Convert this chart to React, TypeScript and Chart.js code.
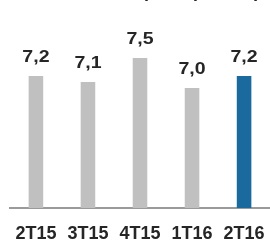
import React, { useEffect, useRef } from "react";
import { Chart, registerables } from "chart.js";

Chart.register(...registerables);

const categories = ["2T15", "3T15", "4T15", "1T16", "2T16"];
const values = [7.2, 7.1, 7.5, 7.0, 7.2];
const valueLabels = ["7,2", "7,1", "7,5", "7,0", "7,2"];
const barColors = ["#c0c0c0", "#c0c0c0", "#c0c0c0", "#c0c0c0", "#1a6a9e"];
const titleMain = "Opex";
const titleUnit = "(em mil)";

const FONT = "'Liberation Sans', Arial, sans-serif";

const valueLabelPlugin = {
  id: "valueLabels",
  afterDatasetsDraw(chart: any) {
    const ctx = chart.ctx;
    const meta = chart.getDatasetMeta(0);
    ctx.save();
    ctx.font = `bold 16px ${FONT}`;
    ctx.fillStyle = "#262626";
    ctx.textAlign = "center";
    ctx.textBaseline = "alphabetic";
    meta.data.forEach((el: any, i: number) => {
      ctx.save();
      ctx.translate(el.x, el.y - 14);
      ctx.scale(1.22, 1);
      ctx.fillText(valueLabels[i], 0, 0);
      ctx.restore();
    });
    ctx.restore();
  },
};

export default function App() {
  const ref = useRef<HTMLCanvasElement | null>(null);
  useEffect(() => {
    if (!ref.current) return;
    const chart = new Chart(ref.current, {
      type: "bar",
      data: {
        labels: categories,
        datasets: [
          {
            data: values,
            backgroundColor: barColors,
            borderWidth: 0,
            barPercentage: 0.56,
            categoryPercentage: 0.5,
          },
        ],
      },
      options: {
        responsive: false,
        animation: false,
        layout: { padding: { left: 9, right: 5, top: 10, bottom: 0 } },
        plugins: {
          legend: { display: false },
          tooltip: { enabled: false },
          title: { display: false },
        },
        scales: {
          y: { display: false, min: 5, max: 8.3 },
          x: {
            afterFit: (scale: any) => {
              scale.height = 39;
            },
            grid: { display: false, drawTicks: false },
            border: { display: true, color: "#9a9a9a", width: 2 },
            ticks: {
              color: "#262626",
              padding: 15,
              maxRotation: 0,
              font: { family: FONT, size: 18, weight: "bold" },
            },
          },
        },
      },
      plugins: [valueLabelPlugin],
    });
    return () => chart.destroy();
  }, []);

  return (
    <div
      style={{
        position: "fixed",
        left: 0,
        top: 0,
        width: 270,
        height: 247,
        overflow: "hidden",
        background: "#fff",
      }}
    >
      <canvas
        ref={ref}
        width={280}
        height={247}
        style={{ position: "absolute", left: 0, top: 0 }}
      />
      <div
        style={{
          position: "absolute",
          right: 10,
          top: -18,
          fontFamily: FONT,
          fontWeight: "bold",
          fontSize: 18,
          lineHeight: "18px",
          whiteSpace: "nowrap",
          color: "#262626",
        }}
      >
        <span>{titleMain}</span>
        <span style={{ marginLeft: 16 }}>{titleUnit}</span>
      </div>
    </div>
  );
}
